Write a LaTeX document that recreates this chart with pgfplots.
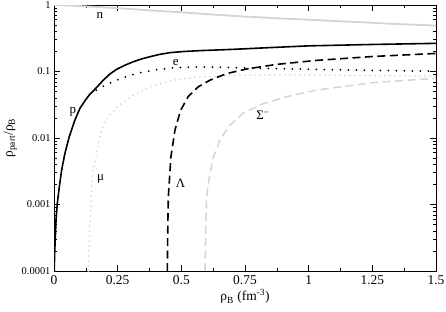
\documentclass[border=0pt]{standalone}
\usepackage{fontspec}
\setmainfont{Liberation Serif}
\usepackage{pgfplots}
\pgfplotsset{compat=1.18}
\usetikzlibrary{calc}
\definecolor{lgray}{RGB}{212,212,212}
\begin{document}
\begin{tikzpicture}
\begin{axis}[
  scale only axis,
  width=382bp, height=266bp,
  xmin=0, xmax=1.5,
  ymode=log, ymin=0.0001, ymax=1,
  xtick={0,0.25,0.5,0.75,1,1.25,1.5},
  xticklabels={0,0.25,0.5,0.75,1,1.25,1.5},
  minor x tick num=1,
  ytick={0.0001,0.001,0.01,0.1,1},
  yticklabels={0.0001,0.001,0.01,0.1,1},
  tick align=inside,
  major tick length=6bp,
  minor tick length=3bp,
  tick style={black, line width=0.6bp},
  axis line style={black, line width=0.8bp},
  /pgf/number format/assume math mode=true,
  x tick label style={font=\fontsize{13.5}{15}\selectfont, yshift=-1bp},
  y tick label style={font=\fontsize{10.5}{12}\selectfont},
  xlabel={ρ\textsubscript{B} (fm\textsuperscript{-3})},
  ylabel={ρ\textsubscript{part}/ρ\textsubscript{B}},
  label style={font=\fontsize{13.5}{15}\selectfont},
  xlabel style={yshift=2bp},
  ylabel style={yshift=-2bp},
  clip=true,
]
\coordinate (SW) at (rel axis cs:0,0);
\coordinate (NE) at (rel axis cs:1,1);
% n
\addplot[lgray, line width=1.8bp, smooth] coordinates {
(0,1.0) (0.1,0.965) (0.2,0.92) (0.3,0.87) (0.4,0.82) (0.5,0.775) (0.6,0.73)
(0.7,0.688) (0.8,0.655) (0.9,0.625) (1.0,0.60) (1.1,0.575) (1.2,0.552)
(1.3,0.528) (1.4,0.508) (1.5,0.49)};
% mu
\addplot[lgray, line width=1.8bp, line cap=round, dash pattern=on 0bp off 5bp] coordinates {
(0.135,0.0001) (0.137,0.0002) (0.139,0.0003) (0.141,0.00058) (0.148,0.00186)
(0.154,0.0033) (0.168,0.0059) (0.181,0.0105) (0.19,0.014) (0.20,0.018)
(0.246,0.029) (0.311,0.044) (0.377,0.059) (0.468,0.074) (0.573,0.083)
(0.7,0.087) (0.85,0.089) (1.0,0.089) (1.25,0.087) (1.5,0.085)};
% Sigma-
\addplot[lgray, line width=1.5bp, dash pattern=on 8bp off 4.5bp] coordinates {
(0.593,0.0001) (0.596,0.0005) (0.599,0.0013) (0.61,0.0026) (0.626,0.0052)
(0.652,0.0093) (0.685,0.0149) (0.743,0.0236) (0.822,0.033) (0.914,0.0418)
(1.031,0.0526) (1.25,0.068) (1.5,0.079)};
% p
\addplot[black, line width=1.6bp] coordinates {
(0.0008,0.0001) (0.0026,0.000185) (0.008,0.00058) (0.013,0.00104) (0.021,0.00186)
(0.030,0.0033) (0.043,0.0059) (0.060,0.0105) (0.069,0.0132) (0.082,0.0186)
(0.102,0.028) (0.125,0.038) (0.14,0.045) (0.154,0.051) (0.17,0.059)
(0.194,0.0745) (0.22,0.092) (0.246,0.108) (0.28,0.125) (0.311,0.14) (0.345,0.155)
(0.377,0.167) (0.415,0.181) (0.455,0.192) (0.51,0.2) (0.573,0.206) (0.7,0.215)
(0.85,0.229) (1.0,0.243) (1.25,0.255) (1.5,0.265)};
% e
\addplot[black, line width=2bp, line cap=round, dash pattern=on 0bp off 8bp] coordinates {
(0.14,0.045) (0.161,0.051) (0.2,0.062) (0.25,0.075) (0.3,0.088) (0.35,0.098)
(0.4,0.106) (0.47,0.114) (0.55,0.117) (0.65,0.116) (0.8,0.112) (1.0,0.108)
(1.25,0.104) (1.5,0.101)};
% Lambda
\addplot[black, line width=1.6bp, dash pattern=on 8bp off 4.5bp] coordinates {
(0.445,0.0001) (0.447,0.0005) (0.449,0.0013) (0.459,0.0052) (0.475,0.0132)
(0.497,0.026) (0.527,0.042) (0.567,0.059) (0.612,0.074) (0.678,0.093)
(0.756,0.109) (0.874,0.128) (1.031,0.147) (1.25,0.168) (1.5,0.187)};
% labels
\node[font=\fontsize{13}{14}\selectfont] at (axis cs:0.18,0.69) {n};
\node[font=\fontsize{13}{14}\selectfont] at (axis cs:0.074,0.025) {p};
\node[font=\fontsize{13}{14}\selectfont] at (axis cs:0.478,0.135) {e};
\node[font=\fontsize{13}{14}\selectfont] at (axis cs:0.183,0.0024) {μ};
\node[font=\fontsize{13}{14}\selectfont] at (axis cs:0.497,0.0021) {Λ};
\node[font=\fontsize{13}{14}\selectfont] at (axis cs:0.82,0.022) {Σ\textsuperscript{−}};
\end{axis}
\pgfresetboundingbox
\path ($(SW)+(-54bp,-41bp)$) rectangle ($(NE)+(10bp,5bp)$);
\end{tikzpicture}
\end{document}
